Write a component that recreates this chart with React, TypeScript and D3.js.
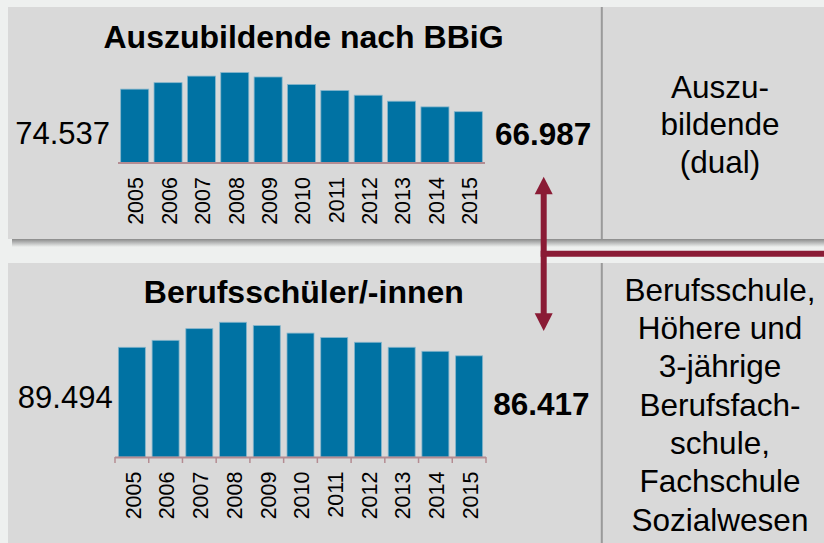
import React from "react";
import * as d3 from "d3";

const years = ["2005","2006","2007","2008","2009","2010","2011","2012","2013","2014","2015"];
const azubiValues = [74537, 76700, 78900, 80100, 78600, 76100, 74100, 72500, 70500, 68600, 66987];
const schuelerValues = [89494, 92000, 96200, 98500, 97300, 94600, 93000, 91300, 89500, 88050, 86417];
const topTitle = "Auszubildende nach BBiG";
const bottomTitle = "Berufsschüler/-innen";
const topRightLines = ["Auszu-", "bildende", "(dual)"];
const bottomRightLines = ["Berufsschule,", "Höhere und", "3-jährige", "Berufsfach-", "schule,", "Fachschule", "Sozialwesen"];

const FONT = "Arial, 'Liberation Sans', sans-serif";
const BAR = "#0072a3";
const BAR_STROKE = "#86b6cc";
const AXIS = "#b48c92";
const RED = "#8a1b35";
const PANEL = "#d9d9d9";
const BG = "#eef0ef";

const fmt = (v: number) => d3.format(",")(v).replace(",", ".");

function BarChart({ values, x0, x1, baseY, yMaxPx, padInner, ticks, labelY }: any) {
  const x = d3.scaleBand<string>().domain(years).range([x0, x1]).paddingInner(padInner).paddingOuter(padInner / 2);
  const y = d3.scaleLinear().domain(yMaxPx.domain).range([baseY, yMaxPx.top]);
  const step = x.step();
  return (
    <g>
      {years.map((yr, i) => (
        <rect key={yr} x={x(yr)} y={y(values[i])} width={x.bandwidth()} height={baseY - y(values[i])}
          fill={BAR} stroke={BAR_STROKE} strokeWidth={0.8} />
      ))}
      <line x1={x0} x2={x1} y1={baseY + 0.5} y2={baseY + 0.5} stroke={AXIS} strokeWidth={2} />
      {ticks && d3.range(years.length + 1).map((i) => (
        <line key={i} x1={x0 + i * step} x2={x0 + i * step} y1={baseY} y2={baseY + 6} stroke={AXIS} strokeWidth={1.5} />
      ))}
      {years.map((yr) => {
        const cx = (x(yr) as number) + x.bandwidth() / 2 + 1;
        return (
          <text key={yr} transform={`translate(${cx},${labelY}) rotate(-90)`} textAnchor="end" dy="0.36em"
            fontSize={21.5} fontFamily={FONT} fill="#000">{yr}</text>
        );
      })}
    </g>
  );
}

export default function App() {
  return (
    <div style={{ position: "fixed", left: 0, top: 0 }}>
      <svg width={824} height={543} style={{ display: "block" }}>
        <defs>
          <linearGradient id="shadow" x1="0" y1="0" x2="0" y2="1">
            <stop offset="0" stopColor="#8a8a8a" />
            <stop offset="1" stopColor={BG} />
          </linearGradient>
        </defs>
        <rect x={0} y={0} width={824} height={543} fill={BG} />
        <rect x={12} y={239} width={812} height={8} fill="url(#shadow)" />
        <rect x={8} y={7} width={816} height={232} fill={PANEL} />
        <rect x={8} y={263} width={816} height={280} fill={PANEL} />
        <line x1={601.8} x2={601.8} y1={7} y2={239} stroke="#9a9a9a" strokeWidth={2} />
        <line x1={601.8} x2={601.8} y1={263} y2={543} stroke="#9a9a9a" strokeWidth={2} />

        <text x={303.5} y={47.5} textAnchor="middle" fontSize={32} fontWeight="bold" fontFamily={FONT}>{topTitle}</text>
        <BarChart values={azubiValues} x0={118} x1={485} baseY={162.5} padInner={0.16} ticks={false}
          yMaxPx={{ domain: [50000, 80000], top: 72.8 }} labelY={177} />
        <text x={110} y={144.3} textAnchor="end" fontSize={31} fontFamily={FONT}>{fmt(azubiValues[0])}</text>
        <text x={495} y={145} textAnchor="start" fontSize={31.5} fontWeight="bold" fontFamily={FONT}>{fmt(azubiValues[azubiValues.length - 1])}</text>

        <text x={303.8} y={303.3} textAnchor="middle" fontSize={32} fontWeight="bold" fontFamily={FONT}>{bottomTitle}</text>
        <BarChart values={schuelerValues} x0={115} x1={486} baseY={457} padInner={0.2} ticks={true}
          yMaxPx={{ domain: [50000, 100000], top: 318.1 }} labelY={471.5} />
        <text x={112.7} y={408.3} textAnchor="end" fontSize={31} fontFamily={FONT}>{fmt(schuelerValues[0])}</text>
        <text x={493.3} y={415} textAnchor="start" fontSize={31.5} fontWeight="bold" fontFamily={FONT}>{fmt(schuelerValues[schuelerValues.length - 1])}</text>

        {topRightLines.map((t, i) => (
          <text key={t} x={720} y={97.7 + i * 37.5} textAnchor="middle" fontSize={31.5} fontFamily={FONT}>{t}</text>
        ))}
        {bottomRightLines.map((t, i) => (
          <text key={t} x={720} y={300.7 + i * 38.3} textAnchor="middle" fontSize={31.5} fontFamily={FONT}>{t}</text>
        ))}

        <line x1={543.7} x2={543.7} y1={193} y2={315} stroke={RED} strokeWidth={6} />
        <line x1={540.7} x2={824} y1={253.7} y2={253.7} stroke={RED} strokeWidth={6} />
        <path d="M543.7,176.7 L552.7,194.3 L534.7,194.3 Z" fill={RED} />
        <path d="M543.7,331 L552.7,313.3 L534.7,313.3 Z" fill={RED} />
      </svg>
    </div>
  );
}
